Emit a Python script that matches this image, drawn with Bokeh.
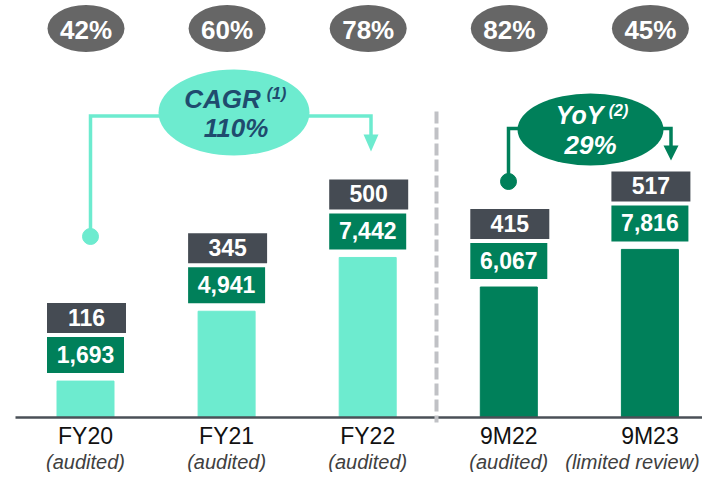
import numpy as np
from bokeh.plotting import figure
from bokeh.models import Range1d, ColumnDataSource
from bokeh.core.properties import value
from bokeh.embed import file_html
from bokeh.resources import INLINE

# ---------------- data ----------------
categories = ["FY20", "FY21", "FY22", "9M22", "9M23"]
subtitles = ["(audited)", "(audited)", "(audited)", "(audited)", "(limited review)"]
revenue = [1693, 4941, 7442, 6067, 7816]
top_values = [116, 345, 500, 415, 517]
shares = ["42%", "60%", "78%", "82%", "45%"]
cagr_label = "110%"
yoy_label = "29%"

TEAL = "#6DEBCF"
GREEN = "#00805A"
DARK = "#454B53"
GREY = "#666666"
NAVY = "#1F4B6E"
FONT = value("Liberation Sans")

bar_colors = [TEAL, TEAL, TEAL, GREEN, GREEN]

# ---------------- layout helpers (pixel frame) ----------------
W, H = 702, 472
SPACING = 141.1           # px between category centres
X0 = 85                   # px of first category centre
BASE = 417                # px of baseline
PX = 46.5                 # data units per vertical pixel

def xd(px):
    return (px - X0) / SPACING

def yd(px):
    return (BASE - px) * PX

xs = np.arange(len(categories))

p = figure(width=W, height=H, output_backend="svg", toolbar_location=None,
           x_range=Range1d(xd(0), xd(W)), y_range=Range1d(yd(H), yd(0)),
           x_axis_type=None, y_axis_type=None, min_border=0)
p.outline_line_color = None
p.grid.visible = False
p.background_fill_color = "white"
p.border_fill_color = "white"

# bars
src = ColumnDataSource(dict(x=xs, top=revenue, color=bar_colors, cat=categories))
p.vbar(x="x", top="top", bottom=0, width=57 / SPACING, color="color", source=src)

# value boxes
rev = np.array(revenue, dtype=float)
gw = 77 / SPACING
dw = 79 / SPACING
p.quad(left=xs - gw / 2, right=xs + gw / 2, bottom=rev + 8 * PX, top=rev + 44 * PX,
       color=GREEN, line_color=None)
p.quad(left=xs - dw / 2 + 1 / SPACING, right=xs + dw / 2 + 1 / SPACING,
       bottom=rev + 48 * PX, top=rev + 78 * PX, color=DARK, line_color=None)
p.text(x=xs, y=rev + 26.5 * PX, text=[f"{v:,}" for v in revenue], text_font=FONT,
       text_font_size="23px", text_font_style="bold", text_color="white",
       text_align="center", text_baseline="middle")
p.text(x=xs + 1 / SPACING, y=rev + 63.5 * PX, text=[str(v) for v in top_values], text_font=FONT,
       text_font_size="23px", text_font_style="bold", text_color="white",
       text_align="center", text_baseline="middle")

# top share ellipses
p.ellipse(x=xs + 0.5 / SPACING, y=[yd(28)] * 5, width=77, height=47,
          width_units="screen", height_units="screen", color=GREY, line_color=None)
p.text(x=xs + 0.5 / SPACING, y=[yd(29)] * 5, text=shares, text_font=FONT,
       text_font_size="26px", text_font_style="bold", text_color="white",
       text_align="center", text_baseline="middle")

# baseline
p.line(x=[xd(15), xd(W)], y=[0, 0], line_color="#4A5057", line_width=2.5)

# dashed separator
p.line(x=[xd(436), xd(436)], y=[yd(111), yd(422)], line_color="#C0C1C5",
       line_width=4, line_dash="12 4")

# CAGR connector
p.line(x=[xd(90), xd(90), xd(370.5), xd(370.5)],
       y=[yd(236), yd(115.5), yd(115.5), yd(136)],
       line_color=TEAL, line_width=3.5, line_join="miter")
p.scatter(x=[xd(90)], y=[yd(236)], size=16, color=TEAL, marker="circle")
p.patch(x=[xd(363), xd(378), xd(370.5)], y=[yd(134), yd(134), yd(151)],
        color=TEAL, line_color=None)
p.ellipse(x=[xd(233.5)], y=[yd(112)], width=151, height=86,
          width_units="screen", height_units="screen", color=TEAL, line_color=None)
p.text(x=[xd(222)], y=[yd(98)], text=["CAGR"], text_font=FONT, text_font_size="26px",
       text_font_style="bold italic", text_color=NAVY, text_align="center",
       text_baseline="middle")
p.text(x=[xd(276)], y=[yd(93)], text=["(1)"], text_font=FONT, text_font_size="16px",
       text_font_style="bold italic", text_color=NAVY, text_align="center",
       text_baseline="middle")
p.text(x=[xd(235.5)], y=[yd(127)], text=[cagr_label], text_font=FONT, text_font_size="26px",
       text_font_style="bold italic", text_color=NAVY, text_align="center",
       text_baseline="middle")

# YoY connector
p.line(x=[xd(508), xd(508), xd(670.5), xd(670.5)],
       y=[yd(181), yd(128), yd(128), yd(147)],
       line_color=GREEN, line_width=3.5, line_join="miter")
p.scatter(x=[xd(508)], y=[yd(181)], size=16, color=GREEN, marker="circle")
p.patch(x=[xd(663), xd(678), xd(670.5)], y=[yd(145), yd(145), yd(160)],
        color=GREEN, line_color=None)
p.ellipse(x=[xd(590)], y=[yd(129)], width=146, height=72,
          width_units="screen", height_units="screen", color=GREEN, line_color=None)
p.text(x=[xd(579)], y=[yd(114.5)], text=["YoY"], text_font=FONT, text_font_size="25px",
       text_font_style="bold italic", text_color="white", text_align="center",
       text_baseline="middle")
p.text(x=[xd(618)], y=[yd(110)], text=["(2)"], text_font=FONT, text_font_size="16px",
       text_font_style="bold italic", text_color="white", text_align="center",
       text_baseline="middle")
p.text(x=[xd(590)], y=[yd(144)], text=[yoy_label], text_font=FONT, text_font_size="26px",
       text_font_style="bold italic", text_color="white", text_align="center",
       text_baseline="middle")

# category labels
p.text(x="x", y=yd(435), text="cat", source=src, text_font=FONT, text_font_size="23px",
       text_color="#111111", text_align="center", text_baseline="middle")
sub_x = xs.astype(float).copy()
sub_x[-1] = xd(632)
p.text(x=sub_x, y=[yd(461)] * 5, text=subtitles, text_font=FONT, text_font_size="20px",
       text_font_style="italic", text_color="#404040", text_align="center",
       text_baseline="middle")

open("out.html", "w").write(file_html(p, INLINE))
